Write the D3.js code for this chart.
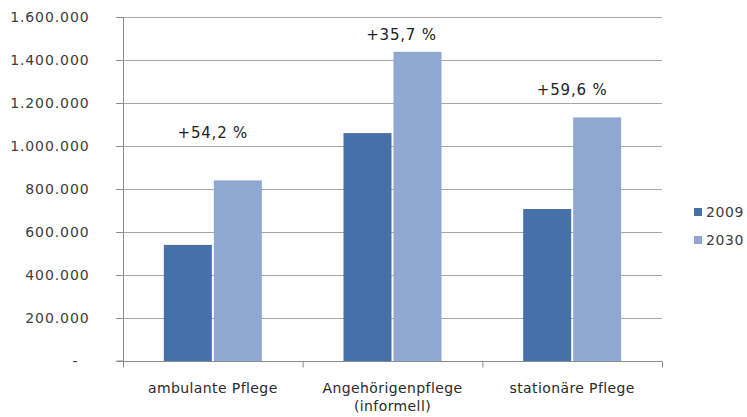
<!DOCTYPE html>
<html>
<head>
<meta charset="utf-8">
<script src="https://cdn.jsdelivr.net/npm/d3@7"></script>
<style>
  body { margin: 0; background: #fff; }
  svg { display: block; font-family: "DejaVu Sans", sans-serif; }
</style>
</head>
<body>
<svg id="chart"></svg>
<script>
// data
const categories = ["ambulante Pflege", "Angehörigenpflege\n(informell)", "stationäre Pflege"];
const seriesNames = ["2009", "2030"];
const values2009 = [540000, 1060000, 707000];
const values2030 = [840000, 1438000, 1133000];
const changeLabels = ["+54,2 %", "+35,7 %", "+59,6 %"];
// where the change labels sit, in data units
const changeLabelLevels = [1037000, 1493000, 1237000];
const yTicks = [0, 200000, 400000, 600000, 800000, 1000000, 1200000, 1400000, 1600000];

const width = 747;
const height = 417;
const margin = { top: 17, right: 85, bottom: 56, left: 123 };
const colors = ["#4570a8", "#8ea8d2"];

const svg = d3.select("#chart")
    .attr("width", width)
    .attr("height", height);

const x = d3.scaleBand()
    .domain(categories)
    .range([margin.left, width - margin.right]);

const xInner = d3.scaleBand()
    .domain(seriesNames)
    .range([0, 98])
    .paddingInner(0.04);

const y = d3.scaleLinear()
    .domain([0, 1600000])
    .range([height - margin.bottom, margin.top]);

const de = d3.formatLocale({ decimal: ",", thousands: ".", grouping: [3], currency: ["", "€"] });
const fmt = de.format(",.0f");

// gridlines
svg.append("g")
    .selectAll("line")
    .data(yTicks.slice(1))
    .join("line")
    .attr("x1", margin.left - 7)
    .attr("x2", width - margin.right)
    .attr("y1", d => y(d) + 0.5)
    .attr("y2", d => y(d) + 0.5)
    .attr("stroke", "#a6a6a6")
    .attr("stroke-width", 1);

// y axis
const yAxis = svg.append("g")
    .attr("transform", `translate(${margin.left + 0.5},0)`)
    .call(d3.axisLeft(y).tickValues(yTicks).tickSize(7).tickPadding(27)
        .tickFormat(d => d === 0 ? "-" : fmt(d)));
yAxis.select(".domain").attr("stroke", "#8c8c8c").attr("d", `M-7,${y(0)}H0V${y(1600000)}`);
yAxis.selectAll(".tick line").attr("stroke", "#8c8c8c");
yAxis.selectAll("text")
    .attr("font-size", 14)
    .attr("letter-spacing", 0.9)
    .attr("fill", "#3c3c3c")
    .attr("font-family", "DejaVu Sans, sans-serif");
yAxis.selectAll(".tick").filter(d => d === 0).select("text").attr("dx", -11);

// bars
const data = categories.map((c, i) => ({
    cat: c, vals: [values2009[i], values2030[i]], label: changeLabels[i], level: changeLabelLevels[i]
}));
const groups = svg.append("g")
    .selectAll("g")
    .data(data)
    .join("g")
    .attr("transform", d => `translate(${x(d.cat) + (x.bandwidth() - 98) / 2},0)`);

groups.selectAll("rect")
    .data(d => d.vals.map((v, j) => ({ name: seriesNames[j], v, j })))
    .join("rect")
    .attr("x", d => xInner(d.name))
    .attr("width", xInner.bandwidth())
    .attr("y", d => y(d.v))
    .attr("height", d => y(0) - y(d.v))
    .attr("fill", d => colors[d.j]);

// change labels
groups.append("text")
    .attr("x", (d, i) => i === 1 ? 58 : 49)
    .attr("y", d => y(d.level))
    .attr("text-anchor", "middle")
    .attr("font-size", 15)
    .attr("letter-spacing", 0.8)
    .attr("fill", "#222")
    .text(d => d.label);

// x axis
const xAxisY = y(0) + 0.5;
svg.append("line")
    .attr("x1", margin.left - 7)
    .attr("x2", width - margin.right)
    .attr("y1", xAxisY)
    .attr("y2", xAxisY)
    .attr("stroke", "#8c8c8c");

const bounds = categories.map(c => x(c)).concat([x(categories[categories.length - 1]) + x.bandwidth()]);
svg.append("g")
    .selectAll("line")
    .data(bounds)
    .join("line")
    .attr("x1", d => d + 0.5)
    .attr("x2", d => d + 0.5)
    .attr("y1", xAxisY)
    .attr("y2", xAxisY + 6)
    .attr("stroke", "#8c8c8c");

svg.append("g")
    .selectAll("text")
    .data(categories)
    .join("text")
    .attr("x", d => x(d) + x.bandwidth() / 2)
    .attr("y", xAxisY + 31)
    .attr("text-anchor", "middle")
    .attr("font-size", 14)
    .attr("letter-spacing", 0.4)
    .attr("fill", "#2a2a2a")
    .each(function (d) {
        const lines = d.split("\n");
        d3.select(this).selectAll("tspan")
            .data(lines)
            .join("tspan")
            .attr("x", x(d) + x.bandwidth() / 2)
            .attr("dy", (l, i) => i === 0 ? 0 : 18)
            .text(l => l);
    });

// legend
const legend = svg.append("g")
    .attr("transform", "translate(694,212)");
const items = legend.selectAll("g")
    .data(seriesNames)
    .join("g")
    .attr("transform", (d, i) => `translate(0,${i * 28})`);
items.append("rect")
    .attr("x", 0)
    .attr("y", -4)
    .attr("width", 8)
    .attr("height", 8)
    .attr("fill", (d, i) => colors[i]);
items.append("text")
    .attr("x", 12)
    .attr("y", 5)
    .attr("font-size", 14)
    .attr("letter-spacing", 0.6)
    .attr("fill", "#3c3c3c")
    .text(d => d);
</script>
</body>
</html>
